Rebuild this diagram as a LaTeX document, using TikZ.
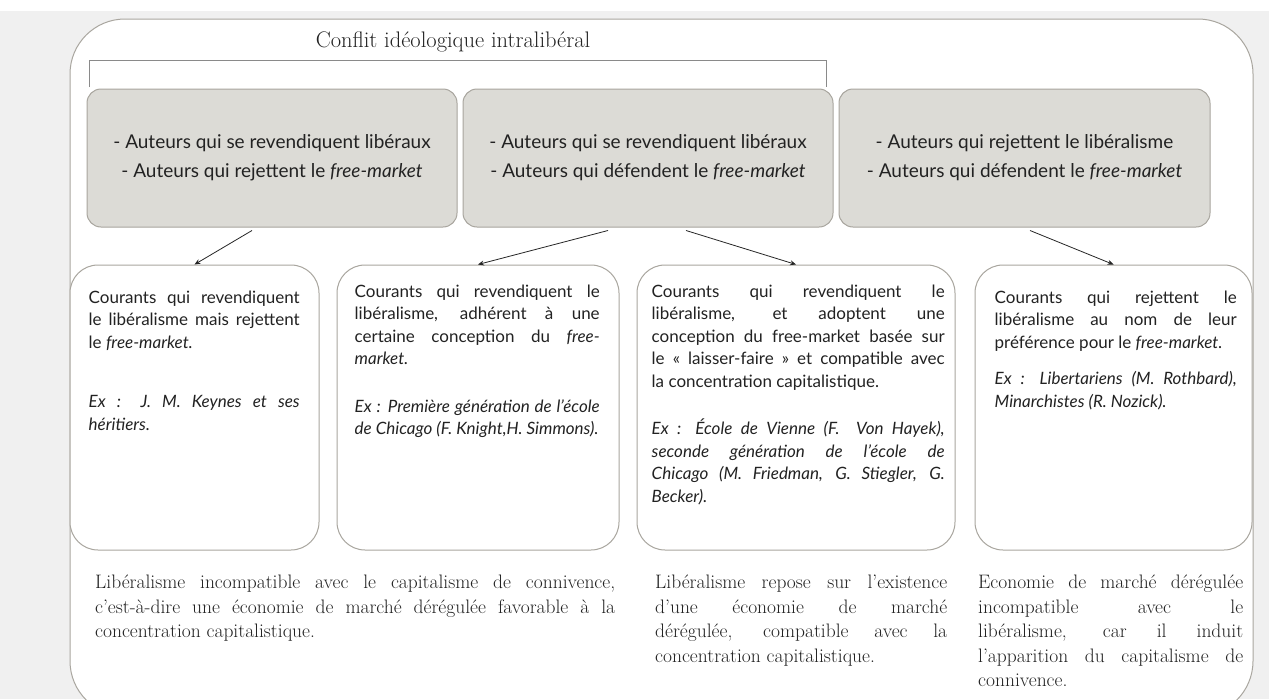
\documentclass[tikz,border=0pt]{standalone}
\usepackage{fontspec}
\newfontfamily\gill{Lato}
\usetikzlibrary{arrows.meta,calc}
\definecolor{pagebg}{HTML}{F0F0F0}
\definecolor{greyfill}{HTML}{DCDBD6}
\definecolor{greyedge}{HTML}{A8A59E}
\definecolor{boxedge}{HTML}{A9A69F}
\definecolor{inkc}{HTML}{222222}
\definecolor{bracketc}{HTML}{8A8A8A}
\newcommand\jl[1]{\makebox[\hsize][s]{\spaceskip=0pt\xspaceskip=0pt #1}}
\newcommand\nl[1]{\mbox{\spaceskip=0pt\xspaceskip=0pt #1}}
\begin{document}
\begin{tikzpicture}[x=1pt,y=-1pt,
  greybox/.style={draw=greyedge, line width=1pt, fill=greyfill, rounded corners=14pt,
    minimum height=138pt, inner sep=0pt, font=\gill\fontsize{19}{29}\selectfont,
    text=inkc, align=center},
  whitebox/.style={draw=boxedge, line width=1pt, fill=white, rounded corners=28pt,
    minimum height=285pt, inner sep=0pt},
  boxtext/.style={anchor=north west, inner sep=0pt, align=left,
    font=\gill\fontsize{17}{22.5}\selectfont, text=inkc},
  serif/.style={anchor=north west, inner sep=0pt, align=left,
    font=\fontsize{19.5}{24.5}\selectfont, text=inkc},
  arr/.style={-{Stealth[length=6pt,width=5pt]}, line width=0.8pt, draw=black!85},
]
\fill[pagebg] (0,0) rectangle (1269,699);
\fill[white] (0,0) rectangle (1269,11);
\useasboundingbox (0,0) rectangle (1269,699);
\draw[draw=boxedge, line width=1pt, fill=white, rounded corners=55pt] (70,19) rectangle (1253,716);

\node[font=\fontsize{22.5}{24}\selectfont, text=inkc, inner sep=0pt] (title) at (453,42) {Conflit idéologique intralibéral};
\draw[bracketc, line width=1pt] (89,87) -- (89,60) -- (826,60) -- (826,87);

\node[greybox, minimum width=370pt] (g1) at (272,158)
  {- Auteurs qui se revendiquent libéraux\\- Auteurs qui rejettent le \textit{free-market}};
\node[greybox, minimum width=370pt] (g2) at (648,158)
  {- Auteurs qui se revendiquent libéraux\\- Auteurs qui défendent le \textit{free-market}};
\node[greybox, minimum width=371pt] (g3) at (1024.5,158)
  {- Auteurs qui rejettent le libéralisme\\- Auteurs qui défendent le \textit{free-market}};

\node[whitebox, minimum width=249pt] (A) at (194.5,407.5) {};
\node[whitebox, minimum width=282pt] (B) at (478,407.5) {};
\node[whitebox, minimum width=318pt] (C) at (796,407.5) {};
\node[whitebox, minimum width=277pt] (D) at (1113.5,407.5) {};

\node[boxtext, text width=211pt] (tA) at ($(A.north west)+(19,26)$)
  {\jl{Courants qui revendiquent}\\\jl{le libéralisme mais rejettent}\\\nl{le \textit{free-market.}}\\[37pt]
   \itshape\jl{Ex : J. M. Keynes et ses}\\\nl{héritiers.}};
\node[boxtext, text width=245pt] (tB) at ($(B.north west)+(18,20)$)
  {\jl{Courants qui revendiquent le}\\\jl{libéralisme, adhérent à une}\\\jl{certaine conception du \textit{free-}}\\\nl{\textit{market.}}\\[25pt]
   \itshape\jl{Ex : Première génération de l’école}\\\nl{de Chicago (F. Knight,H. Simmons).}};
\node[boxtext, text width=293pt] (tC) at ($(C.north west)+(15,20)$)
  {\jl{Courants qui revendiquent le}\\\jl{libéralisme, et adoptent une}\\\jl{conception du free-market basée sur}\\\jl{le « laisser-faire » et compatible avec}\\\nl{la concentration capitalistique.}\\[25pt]
   \itshape\jl{Ex : École de Vienne (F.\ \ Von Hayek),}\\\jl{seconde génération de l’école de}\\\jl{Chicago (M. Friedman, G. Stiegler, G.}\\\nl{Becker).}};
\node[boxtext, text width=242pt] (tD) at ($(D.north west)+(20,26)$)
  {\jl{Courants qui rejettent le}\\\jl{libéralisme au nom de leur}\\\nl{préférence pour le \textit{free-market.}}\\[14pt]
   \itshape\jl{Ex : Libertariens (M. Rothbard),}\\\nl{Minarchistes (R. Nozick).}};

\coordinate (s1) at ($(g1.south)+(-20,3)$);
\coordinate (s2) at ($(g2.south)+(-40,3)$);
\coordinate (s3) at ($(g2.south)+(38,3)$);
\coordinate (s4) at ($(g3.south)+(5.5,3)$);
\draw[arr] (s1) -- (A.north);
\draw[arr] (s2) -- (B.north);
\draw[arr] (s3) -- (C.north);
\draw[arr] (s4) -- (D.north);

\node[serif, text width=520pt] (p1) at (95,575)
  {\jl{Libéralisme incompatible avec le capitalisme de connivence,}\\\jl{c’est-à-dire une économie de marché dérégulée favorable à la}\\\nl{concentration capitalistique.}};
\node[serif, text width=292pt] (p2) at (655,575)
  {\jl{Libéralisme repose sur l’existence}\\\jl{d’une économie de marché}\\\jl{dérégulée, compatible avec la}\\\nl{concentration capitalistique.}};
\node[serif, text width=265pt] (p3) at (978,575)
  {\jl{Economie de marché dérégulée}\\\jl{incompatible avec le}\\\jl{libéralisme, car il induit}\\\jl{l’apparition du capitalisme de}\\\nl{connivence.}};
\end{tikzpicture}
\end{document}
